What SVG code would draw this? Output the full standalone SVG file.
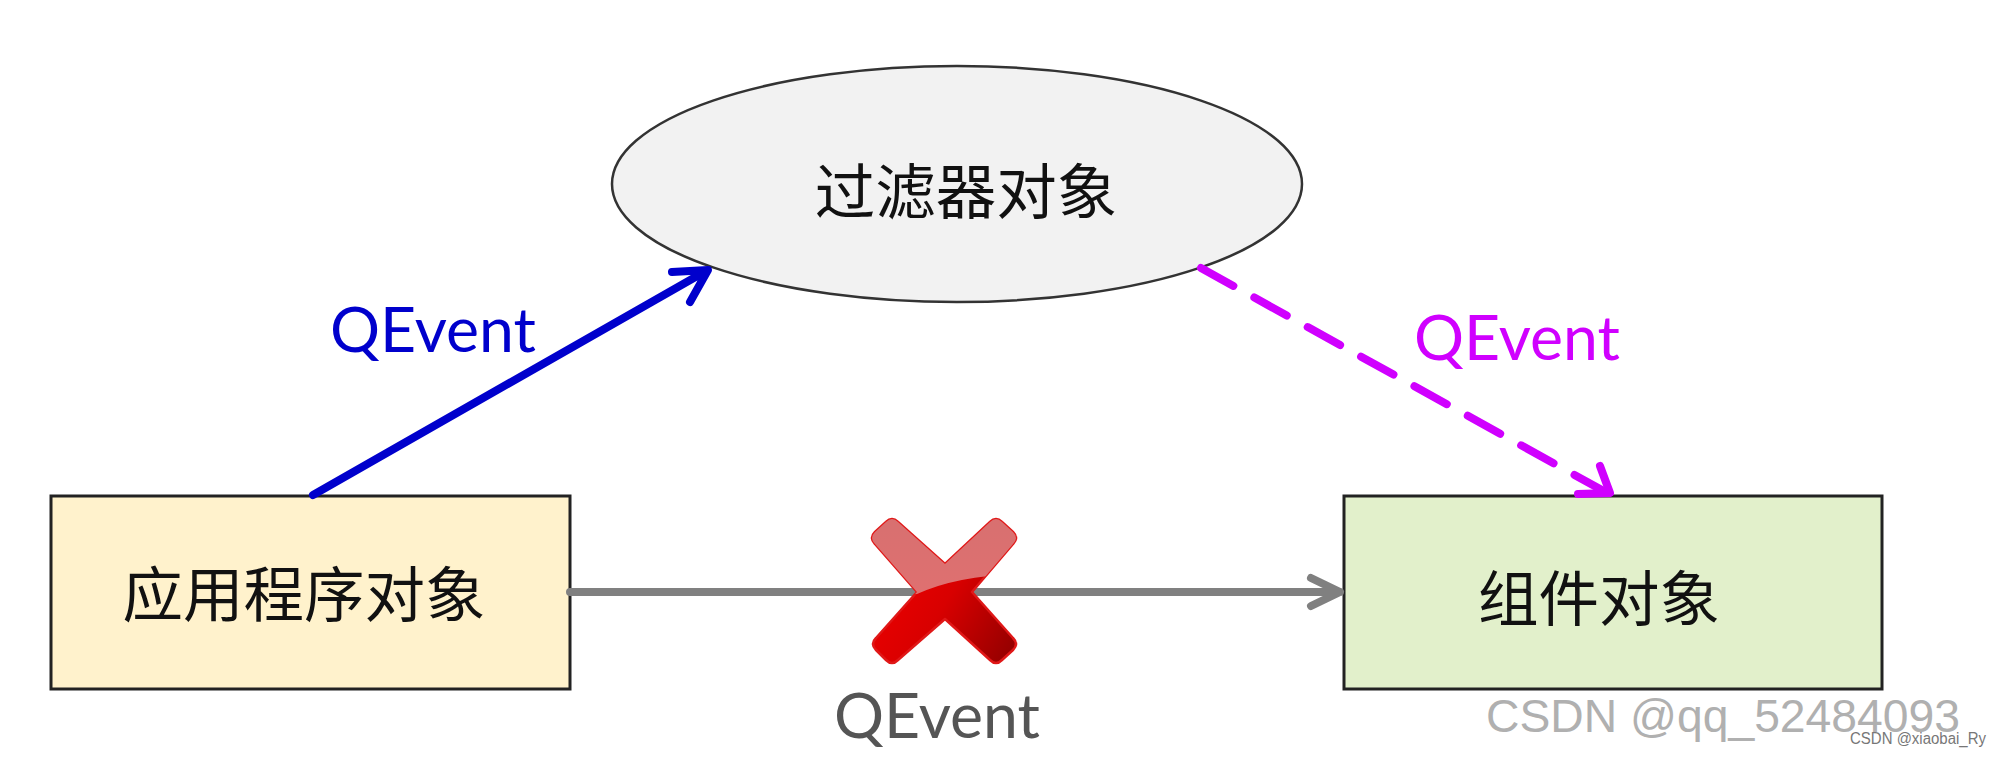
<svg xmlns="http://www.w3.org/2000/svg" width="2000" height="757" viewBox="0 0 2000 757">
<style>
.cjk{font-family:"Noto Sans CJK SC","Noto Sans",sans-serif;font-size:60.5px;fill:#111}
.q{font-family:Lato,"Liberation Sans",sans-serif;font-size:62.5px}
.box{stroke:#222;stroke-width:3}
.wire{fill:none;stroke-width:8;stroke-linecap:round;stroke-linejoin:round}
</style>
<defs>
<path id="xs" d="M875 544Q869 538 875 532L886 522Q892 516 898 522L945 564L990 522Q996 516 1002 522L1013 532Q1019 538 1013 544L972 592L1013 638Q1019 644 1013 650L1002 660Q996 666 990 660L945 619L898 660Q892 666 886 660L876 650Q870 644 876 638L917 592Z"/>
<linearGradient id="xb" x1="0" x2="1" y1="0.3" y2="0.9"><stop offset="0" stop-color="#f00000"/><stop offset="0.5" stop-color="#d80000"/><stop offset="1" stop-color="#940000"/></linearGradient>
<linearGradient id="xt" x1="0" x2="0" y1="0" y2="1"><stop offset="0" stop-color="#d87070"/><stop offset="0.6" stop-color="#e07070"/><stop offset="1" stop-color="#e84040"/></linearGradient>
<clipPath id="xc"><path d="M860 510H1030V574Q960 574 917 594H860Z"/></clipPath>
</defs>
<rect width="2000" height="757" fill="#fff"/>
<g id="node-filter">
<ellipse cx="957" cy="184" rx="345" ry="118" fill="#f2f2f2" stroke="#333" stroke-width="2.5"/>
<text class="cjk" x="966" y="214" text-anchor="middle">过滤器对象</text>
</g>
<g id="node-app">
<rect class="box" x="51" y="496" width="519" height="193" fill="#fff2cc"/>
<text class="cjk" x="304" y="617" text-anchor="middle">应用程序对象</text>
</g>
<g id="node-widget">
<rect class="box" x="1344" y="496" width="538" height="193" fill="#e2f0cb"/>
<text class="cjk" x="1599" y="621" text-anchor="middle">组件对象</text>
</g>
<g id="connectors">
<path class="wire" stroke="#0000cc" d="M313 495L706 271M672 272L708 270L690 302"/>
<path class="wire" stroke="#d000ff" stroke-linecap="butt" stroke-dasharray="37 24" d="M1201 268L1609 494"/>
<path class="wire" stroke="#d000ff" d="M1600 466L1610 493L1578 494"/>
<path class="wire" stroke="#808080" stroke-width="7" d="M570 592L1340 592M1311 578L1340 592L1311 606"/>
</g>
<g id="cross">
<use href="#xs" fill="url(#xb)" stroke="#e01818" stroke-width="2.5" stroke-linejoin="round"/>
<use href="#xs" fill="url(#xt)" clip-path="url(#xc)"/>
</g>
<g id="labels">
<text class="q" x="330" y="352" fill="#0000cc">QEvent</text>
<text class="q" x="1414" y="360" fill="#d000ff">QEvent</text>
<text class="q" x="834" y="738" fill="#555">QEvent</text>
</g>
<g id="watermark" font-family="'Liberation Sans',Arial,sans-serif">
<text x="1486" y="732" font-size="47" fill="#b0b0b0" textLength="474" lengthAdjust="spacingAndGlyphs">CSDN @qq_52484093</text>
<text x="1850" y="744" font-size="16" fill="#777" textLength="136" lengthAdjust="spacingAndGlyphs">CSDN @xiaobai_Ry</text>
</g>
</svg>
